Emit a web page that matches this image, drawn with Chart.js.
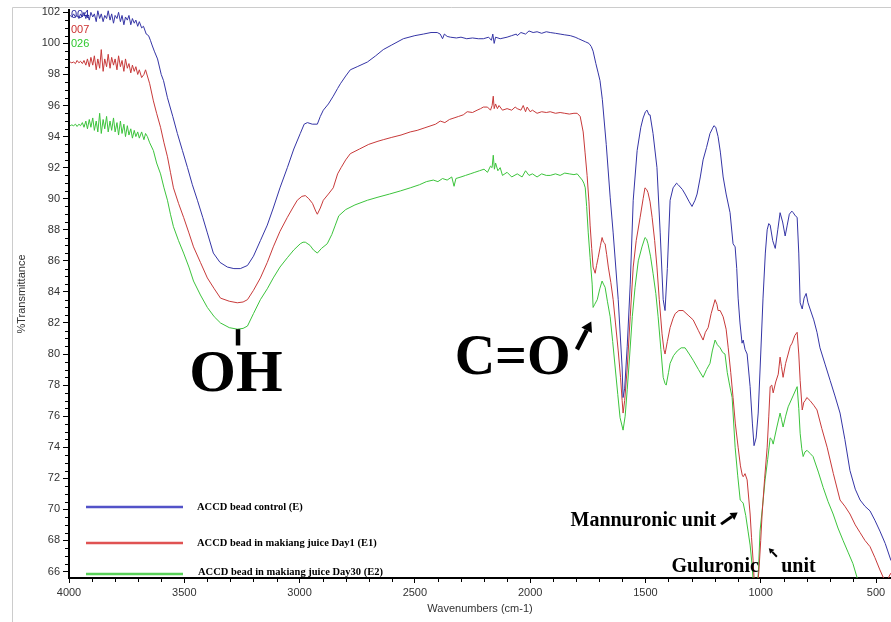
<!DOCTYPE html>
<html>
<head>
<meta charset="utf-8">
<title>FTIR spectra of ACCD beads</title>
<script src="https://cdn.jsdelivr.net/npm/chart.js@4.4.1/dist/chart.umd.min.js"></script>
<style>
  html, body { margin: 0; padding: 0; background: #ffffff; }
  canvas { display: block; }
</style>
</head>
<body>
<canvas id="ftir" width="891" height="622"></canvas>
<script>
// Axis tick labels
const xTicks = [4000, 3500, 3000, 2500, 2000, 1500, 1000, 500];
const yTicks = [66, 68, 70, 72, 74, 76, 78, 80, 82, 84, 86, 88, 90, 92, 94, 96, 98, 100, 102];

// Sample names and file tags
const seriesNames = ['ACCD bead control (E)', 'ACCD bead in makiang juice Day1 (E1)', 'ACCD bead in makiang juice Day30 (E2)'];
const seriesTags = ['004', '007', '026'];

// Control bead (E): wavenumber (cm-1) and %T
const ctrlWn = [3995,3988,3980,3972,3965,3957,3950,3942,3935,3927,3920,3912,3905,3897,3890,3882,3875,3867,3860,3852,3845,3837,3830,3822,3815,3807,3800,3792,3785,3777,3770,3762,3755,3747,3740,3732,3725,3717,3710,3702,3695,3685,3677,3665,3655,3647,3640,3630,3616,3600,3590,3573,3550,3530,3508,3486,3465,3443,3420,3400,3374,3345,3313,3285,3257,3226,3200,3170,3140,3114,3085,3053,3025,2997,2980,2966,2945,2923,2910,2897,2875,2854,2835,2823,2800,2780,2750,2706,2670,2637,2600,2550,2500,2463,2430,2403,2390,2380,2372,2360,2346,2320,2300,2275,2250,2225,2203,2180,2168,2162,2156,2150,2130,2100,2080,2060,2056,2040,2020,2005,1987,1970,1950,1930,1913,1890,1870,1850,1826,1805,1790,1775,1760,1745,1735,1727,1715,1705,1697,1687,1670,1653,1640,1618,1601,1597,1590,1579,1566,1553,1536,1520,1510,1500,1493,1485,1480,1467,1450,1436,1423,1415,1405,1393,1380,1365,1358,1340,1328,1310,1298,1285,1276,1262,1250,1235,1220,1210,1203,1195,1185,1175,1163,1150,1133,1120,1111,1104,1098,1090,1081,1076,1068,1059,1046,1036,1029,1020,1011,1000,990,980,972,965,959,948,937,926,916,905,894,885,876,865,859,850,842,835,829,820,812,803,795,786,770,756,743,720,699,678,656,635,613,590,569,548,526,505,483,460,435];
const ctrlT = [101.8,101.7,101.9,101.7,101.8,101.6,101.9,101.7,102.0,101.6,101.9,101.5,102.0,101.7,101.9,101.4,102.1,101.6,101.9,101.4,101.8,101.6,102.1,101.5,101.9,101.3,101.8,101.6,102.0,101.4,101.8,101.2,101.7,101.5,101.8,101.2,101.6,101.3,101.5,101.1,101.4,101.0,101.1,100.6,100.5,100.2,99.9,99.5,99.0,98.0,97.6,96.5,95.3,94.2,93.1,92.0,90.9,89.9,88.8,87.8,86.5,85.9,85.6,85.5,85.5,85.7,86.3,87.3,88.3,89.4,90.7,92.0,93.2,94.2,94.8,94.9,94.8,94.8,95.3,95.7,96.1,96.6,97.1,97.4,97.9,98.3,98.5,98.8,99.2,99.6,99.9,100.3,100.5,100.6,100.7,100.7,100.6,100.3,100.6,100.45,100.4,100.35,100.4,100.3,100.35,100.3,100.3,100.4,100.2,100.6,100.0,100.4,100.3,100.4,100.5,100.6,100.5,100.7,100.6,100.8,100.7,100.75,100.65,100.75,100.7,100.65,100.6,100.55,100.5,100.4,100.3,100.2,100.1,100.0,99.8,99.5,98.7,98.1,97.6,96.4,93.5,90.1,87.8,83.5,79.1,77.2,77.8,80.5,84.5,89.9,93.1,94.6,95.2,95.6,95.7,95.4,95.4,94.2,92.0,87.8,83.5,82.8,85.5,89.9,90.7,91.0,90.9,90.6,90.3,89.8,89.5,89.9,90.3,91.4,92.5,93.3,94.2,94.5,94.7,94.6,94.0,93.0,91.4,90.3,89.1,87.1,86.9,85.5,83.6,82.0,80.7,80.9,80.3,80.0,77.9,75.5,74.1,74.6,76.2,80.0,83.6,86.5,88.0,88.4,88.3,87.3,86.8,88.0,89.1,88.5,87.6,88.3,89.0,89.2,89.1,88.9,88.8,86.5,83.3,82.9,83.6,83.9,83.3,82.9,82.2,81.4,80.4,79.3,78.3,77.3,76.2,74.5,72.5,71.3,70.6,70.2,69.9,69.3,68.6,67.8,66.7];

// Day 1 bead (E1)
const day1Wn = [3995,3988,3980,3972,3965,3957,3950,3942,3935,3927,3920,3912,3905,3897,3890,3882,3875,3867,3860,3852,3845,3837,3830,3822,3815,3807,3800,3792,3785,3777,3770,3762,3755,3747,3740,3732,3725,3717,3710,3702,3695,3685,3675,3668,3660,3650,3634,3620,3603,3588,3573,3560,3547,3525,3503,3480,3460,3430,3400,3370,3343,3305,3270,3245,3226,3200,3170,3140,3114,3085,3053,3030,3010,2990,2975,2960,2944,2930,2923,2910,2897,2875,2854,2835,2820,2800,2780,2740,2700,2660,2637,2600,2560,2520,2490,2460,2430,2410,2390,2370,2350,2330,2310,2290,2273,2250,2230,2215,2203,2185,2172,2165,2160,2156,2150,2142,2135,2120,2100,2080,2065,2056,2040,2030,2020,2013,2000,1990,1970,1950,1930,1913,1890,1870,1850,1830,1810,1796,1783,1770,1762,1753,1745,1740,1733,1727,1718,1712,1705,1695,1688,1682,1675,1668,1661,1650,1640,1630,1618,1608,1601,1597,1590,1579,1566,1553,1540,1523,1510,1502,1495,1489,1480,1471,1460,1450,1440,1428,1420,1415,1405,1393,1380,1371,1355,1337,1315,1293,1270,1250,1240,1228,1215,1198,1190,1185,1176,1163,1150,1141,1130,1120,1110,1098,1088,1080,1076,1068,1059,1046,1040,1033,1026,1018,1008,1000,994,983,972,965,959,952,946,935,924,916,910,903,892,881,872,864,852,842,835,829,820,813,807,800,786,770,756,735,712,685,656,635,613,590,569,548,526,505,483,465,453,443,435];
const day1T = [98.8,98.75,98.8,98.7,98.9,98.75,98.85,98.7,98.9,98.6,99.0,98.5,99.1,98.6,99.2,98.3,99.0,98.4,99.6,98.2,99.0,98.5,99.3,98.4,99.1,98.6,99.0,98.3,99.2,98.5,98.9,98.2,99.0,98.4,98.7,98.1,98.6,98.2,98.5,98.0,98.3,97.8,98.0,98.3,97.9,97.4,96.3,95.5,94.6,93.6,92.7,91.7,90.7,89.7,88.8,87.8,86.9,85.9,84.9,84.2,83.6,83.4,83.3,83.35,83.5,84.1,84.9,85.9,86.9,87.9,88.8,89.4,89.9,90.15,90.2,90.0,89.7,89.2,89.0,89.4,89.9,90.3,90.7,91.6,92.0,92.5,92.9,93.2,93.5,93.7,93.8,93.95,94.1,94.3,94.4,94.55,94.7,94.8,95.0,94.9,95.1,95.2,95.3,95.4,95.6,95.55,95.7,95.8,95.9,95.9,95.7,96.0,96.6,95.8,96.1,95.8,96.0,95.7,95.8,95.7,95.9,95.8,95.7,96.0,95.6,95.9,95.6,95.7,95.5,95.6,95.55,95.6,95.5,95.55,95.5,95.45,95.5,95.5,95.3,94.3,93.0,91.5,89.8,88.3,86.8,85.6,85.2,85.7,86.2,87.0,87.5,87.2,87.1,86.4,85.6,84.6,83.5,82.0,80.2,78.5,77.0,76.2,77.0,79.1,82.4,85.6,87.3,88.8,90.0,90.7,90.6,90.4,89.8,88.8,87.3,85.6,83.5,81.3,80.3,80.0,80.8,81.7,82.3,82.6,82.8,82.8,82.5,82.2,81.5,80.9,81.4,81.7,82.6,83.5,83.2,82.8,82.8,82.4,81.6,80.4,78.8,77.2,75.5,74.0,72.8,72.2,72.1,72.3,71.9,69.7,68.2,66.7,64.8,64.5,66.0,68.0,69.7,72.0,74.0,76.0,77.9,78.0,77.5,78.2,78.7,79.8,79.2,78.5,79.4,80.0,80.5,80.7,81.2,81.4,80.0,78.3,76.4,76.9,77.0,77.2,77.0,76.7,76.4,75.2,74.0,72.3,70.6,70.2,69.7,69.0,68.5,68.0,67.6,66.9,66.1,65.5,65.2,65.7,65.9];

// Day 30 bead (E2)
const day30Wn = [3995,3988,3980,3972,3965,3957,3950,3942,3935,3927,3920,3912,3905,3897,3890,3882,3875,3867,3860,3852,3845,3837,3830,3822,3815,3807,3800,3792,3785,3777,3770,3762,3755,3747,3740,3732,3725,3717,3710,3702,3695,3685,3675,3668,3660,3650,3634,3620,3603,3588,3573,3560,3547,3525,3503,3480,3460,3430,3400,3370,3343,3305,3270,3245,3226,3200,3170,3140,3114,3085,3053,3025,2997,2985,2975,2955,2940,2923,2905,2880,2860,2845,2830,2800,2760,2706,2660,2610,2563,2520,2480,2450,2420,2400,2380,2360,2340,2330,2322,2300,2280,2260,2240,2220,2200,2185,2172,2165,2160,2155,2150,2140,2130,2120,2100,2080,2056,2035,2020,2005,1990,1970,1950,1930,1913,1890,1870,1850,1830,1810,1796,1785,1774,1767,1761,1755,1748,1740,1731,1727,1720,1709,1698,1688,1682,1675,1665,1653,1642,1631,1620,1610,1597,1588,1579,1568,1557,1545,1531,1515,1502,1495,1489,1478,1467,1455,1445,1433,1423,1415,1410,1400,1393,1378,1362,1345,1328,1310,1293,1270,1250,1235,1220,1210,1198,1188,1176,1165,1155,1145,1135,1124,1111,1100,1089,1082,1076,1065,1055,1046,1038,1030,1020,1010,1003,992,981,970,959,952,946,930,916,910,903,892,881,860,842,835,829,822,816,808,799,786,773,750,729,708,686,665,643,620,600,578,560,520,470,435];
const day30T = [94.7,94.75,94.7,94.8,94.65,94.8,94.7,94.9,94.6,95.0,94.5,95.1,94.6,95.2,94.4,95.0,94.3,95.5,94.2,95.1,94.5,95.3,94.3,95.0,94.4,95.2,94.3,94.9,94.1,95.0,94.2,94.8,94.0,94.7,94.1,94.5,93.9,94.4,94.0,94.3,93.9,94.3,93.8,94.2,94.0,93.6,93.1,92.3,91.6,90.7,89.9,89.0,88.2,87.3,86.5,85.6,84.7,83.8,83.0,82.4,82.0,81.7,81.6,81.65,81.8,82.6,83.5,84.2,84.9,85.6,86.2,86.7,87.1,87.2,87.2,87.0,86.7,86.5,86.8,87.1,87.7,88.3,88.9,89.3,89.6,89.9,90.1,90.3,90.5,90.7,90.9,91.1,91.2,91.1,91.3,91.2,91.4,90.8,91.3,91.4,91.5,91.6,91.7,91.8,91.9,91.7,92.1,92.0,92.8,91.9,92.3,91.8,92.0,91.5,91.7,91.4,91.6,91.4,91.8,91.5,91.6,91.4,91.6,91.5,91.5,91.6,91.5,91.65,91.6,91.55,91.6,91.4,91.2,91.0,90.7,89.5,87.8,86.2,84.5,83.0,83.2,83.5,84.2,84.7,84.5,84.3,83.4,82.4,80.8,79.1,77.4,75.9,75.1,76.0,77.7,80.0,82.4,84.3,86.0,86.9,87.5,87.4,87.1,86.3,85.2,83.9,82.4,80.3,78.5,78.1,78.0,78.8,79.4,79.9,80.2,80.4,80.4,80.0,79.6,79.0,78.5,79.0,79.4,80.2,80.9,80.6,80.4,80.1,80.0,78.8,78.0,77.2,74.0,72.2,70.6,70.5,70.4,69.6,68.6,67.7,66.5,64.8,64.3,66.0,68.6,70.2,71.9,73.2,74.6,74.5,74.2,75.3,76.2,75.8,75.3,76.0,76.6,77.3,77.9,76.5,74.9,73.9,73.4,73.7,73.8,73.6,73.4,72.4,71.4,70.5,69.7,68.8,68.0,67.2,66.5,65.4,64.8,64.0,63.3,63.0];

const lineColors = ['#3535a6', '#c83a3a', '#3cc43c'];
const legendColors = ['#5252c8', '#e05252', '#5ad25a'];
const tagColors = ['#2a2aa0', '#cc3030', '#2ec82e'];

const series = [[ctrlWn, ctrlT], [day1Wn, day1T], [day30Wn, day30T]];

// Band annotations placed in data space (wavenumber, %T)
const bandNotes = {
  ohBar: { wn: 3268, t1: 81.6, t2: 80.55 },
  ohText: { wn: 3276, t: 77.6, text: 'OH' },
  coText: { wn: 2076, t: 78.7, text: 'C=O' },
  coArrow: { from: [1797, 80.3], to: [1735, 82.1] },
  mannText: { wn: 1825, t: 68.95, text: 'Mannuronic unit' },
  mannArrow: { from: [1172, 69.05], to: [1100, 69.8] },
  gulText: { wn: 1387, t: 65.95, text: 'Guluronic' },
  gulUnit: { wn: 911, t: 65.95, text: 'unit' },
  gulArrow: { from: [930, 66.95], to: [965, 67.5] }
};

const serif = '"Liberation Serif", "Times New Roman", serif';
const sans = '"Liberation Sans", Arial, sans-serif';

function drawArrow(ctx, x1, y1, x2, y2, width, head) {
  const a = Math.atan2(y2 - y1, x2 - x1);
  const bx = x2 - head * Math.cos(a), by = y2 - head * Math.sin(a);
  ctx.lineWidth = width;
  ctx.beginPath(); ctx.moveTo(x1, y1); ctx.lineTo(bx, by); ctx.stroke();
  const hw = head * 0.6;
  ctx.beginPath();
  ctx.moveTo(x2, y2);
  ctx.lineTo(bx + hw * Math.sin(a), by - hw * Math.cos(a));
  ctx.lineTo(bx - hw * Math.sin(a), by + hw * Math.cos(a));
  ctx.closePath(); ctx.fill();
}

const decorPlugin = {
  id: 'decor',
  beforeDraw(chart) {
    const ctx = chart.ctx;
    ctx.save();
    ctx.fillStyle = '#ffffff';
    ctx.fillRect(0, 0, chart.width, chart.height);
    // outer light frame
    ctx.strokeStyle = '#cccccc';
    ctx.lineWidth = 1;
    ctx.beginPath();
    ctx.moveTo(12.5, chart.height); ctx.lineTo(12.5, 7.5); ctx.lineTo(chart.width, 7.5);
    ctx.stroke();
    ctx.restore();
  },
  afterDraw(chart) {
    const ctx = chart.ctx;
    const xs = chart.scales.x, ys = chart.scales.y, area = chart.chartArea;
    ctx.save();
    // minor ticks
    ctx.strokeStyle = '#000'; ctx.lineWidth = 1;
    ctx.beginPath();
    for (let v = 500; v <= 4000; v += 100) {
      if (v % 500 === 0) continue;
      const px = Math.round(xs.getPixelForValue(v)) + 0.5;
      ctx.moveTo(px, area.bottom + 1); ctx.lineTo(px, area.bottom + 4);
    }
    for (let v = 66; v <= 102; v += 0.5) {
      if (v % 2 === 0) continue;
      const py = Math.round(ys.getPixelForValue(v)) + 0.5;
      ctx.moveTo(area.left - 1, py); ctx.lineTo(area.left - 4, py);
    }
    ctx.stroke();

    // file tags at the upper left
    ctx.font = '11px ' + sans;
    ctx.textAlign = 'left'; ctx.textBaseline = 'middle';
    seriesTags.forEach((tag, i) => {
      ctx.fillStyle = tagColors[i];
      ctx.fillText(tag, area.left + 2, 15 + i * 14.5);
    });

    // legend
    const legendY = [507, 543, 574];
    ctx.font = 'bold 10.5px ' + serif;
    seriesNames.forEach((name, i) => {
      ctx.strokeStyle = legendColors[i]; ctx.lineWidth = 2.5;
      ctx.beginPath(); ctx.moveTo(86, legendY[i]); ctx.lineTo(183, legendY[i]); ctx.stroke();
      ctx.fillStyle = '#000';
      ctx.fillText(name, 197 + (i === 2 ? 1 : 0), legendY[i] - (i === 2 ? 1.5 : 0));
    });

    // band annotations
    const X = v => xs.getPixelForValue(v), Y = v => ys.getPixelForValue(v);
    ctx.fillStyle = '#000'; ctx.strokeStyle = '#000';
    const n = bandNotes;
    ctx.fillRect(X(n.ohBar.wn) - 2, Y(n.ohBar.t1), 4.5, Y(n.ohBar.t2) - Y(n.ohBar.t1));
    ctx.textBaseline = 'alphabetic';
    ctx.textAlign = 'center';
    ctx.font = 'bold 60px ' + serif;
    ctx.fillText(n.ohText.text, X(n.ohText.wn), Y(n.ohText.t));
    ctx.font = 'bold 56px ' + serif;
    ctx.fillText(n.coText.text, X(n.coText.wn), Y(n.coText.t));
    drawArrow(ctx, X(n.coArrow.from[0]), Y(n.coArrow.from[1]), X(n.coArrow.to[0]), Y(n.coArrow.to[1]), 4.5, 10);

    ctx.textAlign = 'left';
    ctx.font = 'bold 20px ' + serif;
    ctx.fillText(n.mannText.text, X(n.mannText.wn), Y(n.mannText.t));
    drawArrow(ctx, X(n.mannArrow.from[0]), Y(n.mannArrow.from[1]), X(n.mannArrow.to[0]), Y(n.mannArrow.to[1]), 3, 7);
    ctx.fillText(n.gulText.text, X(n.gulText.wn), Y(n.gulText.t));
    ctx.fillText(n.gulUnit.text, X(n.gulUnit.wn), Y(n.gulUnit.t));
    drawArrow(ctx, X(n.gulArrow.from[0]), Y(n.gulArrow.from[1]), X(n.gulArrow.to[0]), Y(n.gulArrow.to[1]), 2, 5);
    ctx.restore();
  }
};

new Chart(document.getElementById('ftir'), {
  type: 'line',
  data: {
    datasets: series.map(([wn, t], i) => ({
      label: seriesNames[i],
      data: wn.map((w, k) => ({ x: w, y: t[k] })),
      borderColor: lineColors[i],
      borderWidth: 1,
      pointRadius: 0,
      tension: 0,
      fill: false
    }))
  },
  options: {
    responsive: false,
    animation: false,
    devicePixelRatio: 1,
    layout: { padding: { top: 10, left: 0, right: 0, bottom: 0 } },
    plugins: { legend: { display: false }, tooltip: { enabled: false } },
    scales: {
      x: {
        type: 'linear',
        reverse: true,
        min: 435,
        max: 4000,
        afterBuildTicks: s => { s.ticks = xTicks.map(v => ({ value: v })); },
        afterFit: s => { s.height = 44; },
        grid: { drawOnChartArea: false, drawTicks: true, tickLength: 5, color: '#000', lineWidth: 1 },
        border: { display: true, color: '#000', width: 2 },
        ticks: { font: { family: sans, size: 11 }, color: '#333', padding: 3, maxRotation: 0, autoSkip: false, callback: v => String(v) },
        title: { display: true, text: 'Wavenumbers (cm-1)', font: { family: sans, size: 11 }, color: '#333', padding: { top: 0, bottom: 6 } }
      },
      y: {
        type: 'linear',
        min: 65.58,
        max: 102.15,
        afterBuildTicks: s => { s.ticks = yTicks.map(v => ({ value: v })); },
        afterFit: s => { s.width = 69; },
        grid: { drawOnChartArea: false, drawTicks: true, tickLength: 6, color: '#000', lineWidth: 1 },
        border: { display: true, color: '#000', width: 2 },
        ticks: { font: { family: sans, size: 11 }, color: '#333', padding: 3, autoSkip: false, callback: v => String(v) },
        title: { display: true, text: '%Transmittance', font: { family: sans, size: 11 }, color: '#333', padding: { top: 15, bottom: 0 } }
      }
    }
  },
  plugins: [decorPlugin]
});
</script>
</body>
</html>
